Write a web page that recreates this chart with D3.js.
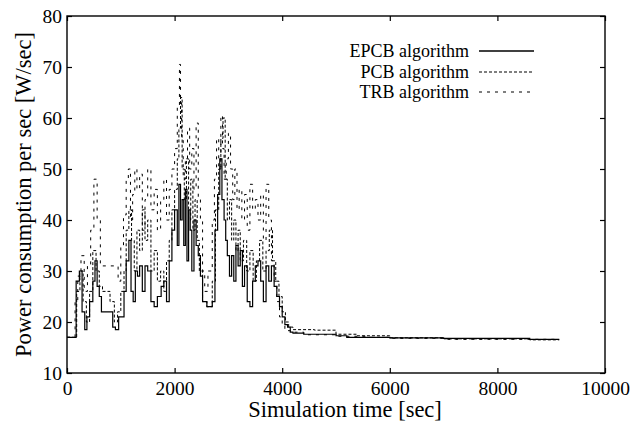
<!DOCTYPE html>
<html>
<head>
<meta charset="utf-8">
<script src="https://cdn.jsdelivr.net/npm/d3@7"></script>
<style>
  html, body { margin: 0; padding: 0; background: #fff; }
  svg { display: block; }
</style>
</head>
<body>
<svg id="chart" width="643" height="425"></svg>
<script>
// ---- data (time [sec], power [W/sec]) ----
const xTicks = [0, 2000, 4000, 6000, 8000, 10000];
const yTicks = [10, 20, 30, 40, 50, 60, 70, 80];
const seriesNames = ["EPCB algorithm", "PCB algorithm", "TRB algorithm"];

const epcb = [[0,17],[170,28],[230,30],[280,22],[330,18.5],[370,21],[420,24],[480,28],[520,32],[560,27],[600,25],[640,22],[850,19],[900,18.5],[960,21],[1000,21],[1060,26],[1100,32],[1150,36],[1190,26],[1230,24],[1270,30],[1310,29],[1350,31],[1400,26],[1450,31],[1500,30],[1560,24],[1620,23],[1680,25],[1750,27],[1800,28],[1850,24],[1900,32],[1950,38],[2000,42],[2050,35],[2080,47],[2110,40],[2140,44],[2170,35],[2200,46],[2230,32],[2260,42],[2290,38],[2320,30],[2360,40],[2400,35],[2440,33],[2480,29],[2520,24],[2600,23],[2700,24],[2750,38],[2800,45],[2840,52],[2880,44],[2920,40],[2950,36],[2980,33],[3020,29],[3060,33],[3100,28],[3140,35],[3180,31],[3220,34],[3260,27],[3300,31],[3350,24],[3400,23],[3450,28],[3500,31],[3550,32],[3600,28],[3650,24],[3700,31],[3750,28],[3800,31],[3850,27],[3900,25],[3950,23],[4000,21],[4050,19.5],[4100,19],[4150,18],[4200,17.8],[4400,17.6],[5000,17.3],[5200,17.0],[6000,16.9],[7000,16.8],[8600,16.6],[9150,16.6]];

const pcb = [[0,17],[180,26],[240,30],[300,24],[360,20],[420,26],[480,34],[540,30],[600,27],[660,26],[800,24],[880,20],[940,22],[1000,26],[1060,30],[1100,38],[1150,42],[1200,36],[1250,30],[1300,38],[1350,34],[1400,42],[1450,36],[1500,40],[1560,30],[1620,34],[1680,28],[1740,30],[1800,26],[1850,32],[1900,36],[1950,42],[2000,46],[2050,52],[2080,58],[2110,64],[2140,50],[2180,44],[2220,52],[2260,40],[2300,48],[2340,38],[2380,44],[2420,36],[2460,30],[2520,24],[2600,23],[2700,28],[2760,42],[2820,50],[2860,56],[2900,60],[2940,48],[2980,40],[3020,44],[3060,36],[3100,40],[3140,34],[3180,38],[3220,32],[3280,36],[3340,30],[3400,34],[3460,28],[3520,32],[3580,36],[3640,30],[3700,34],[3760,38],[3820,32],[3880,28],[3940,25],[4000,22],[4060,20],[4120,19],[4200,18.5],[4600,18.4],[5000,17.6],[5400,17.3],[6000,16.9],[7000,16.7],[8600,16.5],[9150,16.5]];

const trb = [[0,17],[150,24],[200,29],[260,33],[320,26],[380,31],[440,38],[500,48],[560,40],[620,31],[950,28],[1000,35],[1050,41],[1100,48],[1140,50],[1180,40],[1220,45],[1260,50],[1300,46],[1350,49],[1400,38],[1450,44],[1500,50],[1560,42],[1620,46],[1680,38],[1740,44],[1800,48],[1850,40],[1900,46],[1950,50],[2000,54],[2050,62],[2090,70.5],[2110,63],[2130,56],[2160,48],[2200,52],[2240,58],[2280,50],[2320,54],[2360,46],[2400,59],[2440,44],[2480,40],[2520,30],[2560,26],[2620,30],[2700,40],[2740,48],[2780,56],[2820,50],[2860,60.5],[2890,54],[2920,48],[2960,52],[3000,57],[3040,50],[3080,44],[3120,50],[3160,42],[3200,46],[3250,40],[3300,45],[3350,38],[3400,47],[3450,42],[3500,44],[3550,40],[3600,45],[3650,36],[3700,47],[3750,40],[3800,32],[3850,28],[3900,24],[3950,21],[4000,19.5],[4050,18.6],[4100,18.3],[4150,18.2],[4200,18],[4400,17.5],[5000,17.2],[5600,17],[6000,16.8],[7000,16.6],[9150,16.6]];

// ---- layout ----
const FONT = "'Liberation Serif', 'Times New Roman', 'DejaVu Serif', serif";
const W = 643, H = 425;
const m = { left: 67, top: 16, right: 38, bottom: 52 };
const iw = W - m.left - m.right, ih = H - m.top - m.bottom;

const svg = d3.select("#chart");
const g = svg.append("g").attr("transform", `translate(${m.left},${m.top})`);

const x = d3.scaleLinear().domain([0, 10000]).range([0, iw]);
const y = d3.scaleLinear().domain([10, 80]).range([ih, 0]);

// axes with inward ticks, mirrored
const tickLen = 5;
const fmt = d3.format("d");
const axB = g.append("g").attr("transform", `translate(0,${ih})`)
  .call(d3.axisBottom(x).tickValues(xTicks).tickSizeInner(-tickLen).tickSizeOuter(0).tickPadding(8).tickFormat(fmt));
const axT = g.append("g")
  .call(d3.axisTop(x).tickValues(xTicks).tickSizeInner(-tickLen).tickSizeOuter(0).tickFormat(""));
const axL = g.append("g")
  .call(d3.axisLeft(y).tickValues(yTicks).tickSizeInner(-tickLen).tickSizeOuter(0).tickPadding(5).tickFormat(fmt));
const axR = g.append("g").attr("transform", `translate(${iw},0)`)
  .call(d3.axisRight(y).tickValues(yTicks).tickSizeInner(-tickLen).tickSizeOuter(0).tickFormat(""));
[axB, axT, axL, axR].forEach(a => {
  a.attr("font-family", FONT);
  a.select(".domain").remove();
  a.selectAll(".tick line").attr("stroke", "#000").attr("stroke-width", 1.2);
  a.selectAll("text").attr("font-family", FONT).attr("font-size", 19.5).attr("fill", "#000");
});

// frame
g.append("rect").attr("x", 0).attr("y", 0).attr("width", iw).attr("height", ih)
  .attr("fill", "none").attr("stroke", "#000").attr("stroke-width", 1.4);

// lines
const line = d3.line().x(d => x(d[0])).y(d => y(d[1])).curve(d3.curveStepAfter);
const styles = [
  { data: epcb, dash: null, w: 1.2 },
  { data: pcb, dash: "3,2", w: 1.0 },
  { data: trb, dash: "3,5", w: 1.0 }
];
styles.forEach(s => {
  g.append("path").datum(s.data).attr("d", line)
    .attr("fill", "none").attr("stroke", "#000")
    .attr("stroke-width", s.w)
    .attr("stroke-dasharray", s.dash);
});

// legend
const legY = [35, 56, 76];
const leg = g.append("g");
seriesNames.forEach((name, i) => {
  leg.append("text").attr("x", 402).attr("y", legY[i]).attr("dy", "0.35em")
    .attr("text-anchor", "end").attr("font-family", FONT).attr("font-size", 18).text(name);
  leg.append("line").attr("x1", 412).attr("x2", 467).attr("y1", legY[i]).attr("y2", legY[i])
    .attr("stroke", "#000").attr("stroke-width", i === 0 ? 1.4 : 1.1)
    .attr("stroke-dasharray", styles[i].dash);
});

// axis titles
svg.append("text").attr("x", 345).attr("y", 417)
  .attr("text-anchor", "middle").attr("font-family", FONT).attr("font-size", 22.5).text("Simulation time [sec]");
svg.append("text").attr("transform", `translate(23,${m.top + ih / 2}) rotate(-90)`)
  .attr("text-anchor", "middle").attr("dy", "0.35em").attr("font-family", FONT).attr("font-size", 22.5)
  .text("Power consumption per sec [W/sec]");
</script>
</body>
</html>
